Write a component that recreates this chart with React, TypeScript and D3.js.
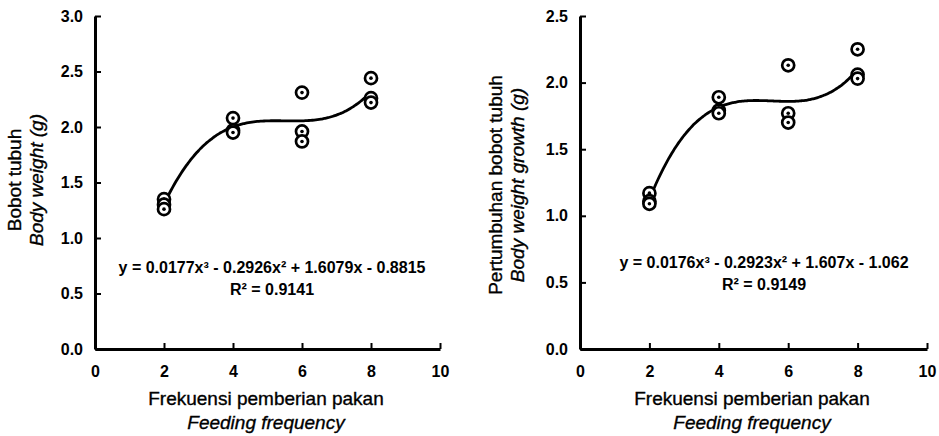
import React, { useEffect, useRef } from "react";
import * as d3 from "d3";

// feeding frequency categories on the x axis
const xTicks = [0, 2, 4, 6, 8, 10];
const feedX = [2, 2, 2, 4, 4, 4, 6, 6, 6, 8, 8, 8];

// left panel: body weight (g)
const bodyYTicks = [0, 0.5, 1, 1.5, 2, 2.5, 3];
const bodyWeight = [1.35, 1.3, 1.26, 2.08, 1.97, 1.95, 2.31, 1.96, 1.87, 2.44, 2.26, 2.22];
const bodyCoef = [0.0177, -0.2926, 1.6079, -0.8815];
const bodyEq = "y = 0.0177x³ - 0.2926x² + 1.6079x - 0.8815";
const bodyR2 = "R² = 0.9141";

// right panel: body weight growth (g)
const growthYTicks = [0, 0.5, 1, 1.5, 2, 2.5];
const growthWeight = [1.17, 1.11, 1.09, 1.89, 1.79, 1.77, 2.13, 1.77, 1.7, 2.25, 2.06, 2.03];
const growthCoef = [0.0176, -0.2923, 1.607, -1.062];
const growthEq = "y = 0.0176x³ - 0.2923x² + 1.607x - 1.062";
const growthR2 = "R² = 0.9149";

const FONT = "'Liberation Sans', Arial, Helvetica, sans-serif";

type PanelProps = {
  left: number;
  right: number;
  top: number;
  bottom: number;
  yMax: number;
  yTicks: number[];
  values: number[];
  coef: number[];
  eq: string;
  r2: string;
  eqX: number;
  eqY: number;
  titleX: number;
  yTitle1: string;
  yTitle2: string;
  yTitleX: number;
  yTitleY: number;
};

const Panel = (p: PanelProps) => {
  const ref = useRef<SVGGElement>(null);

  useEffect(() => {
    const g = d3.select(ref.current);
    g.selectAll("*").remove();

    const x = d3.scaleLinear().domain([0, 10]).range([p.left, p.right]);
    const y = d3.scaleLinear().domain([0, p.yMax]).range([p.bottom, p.top]);

    // axes with inward ticks
    const xa = g
      .append("g")
      .attr("transform", `translate(0,${p.bottom})`)
      .call(
        d3.axisBottom(x).tickValues(xTicks).tickFormat(d3.format("d")).tickSizeInner(-6).tickSizeOuter(0).tickPadding(17)
      );
    const ya = g
      .append("g")
      .attr("transform", `translate(${p.left},0)`)
      .call(
        d3.axisLeft(y).tickValues(p.yTicks).tickFormat(d3.format(".1f")).tickSizeInner(-6).tickSizeOuter(0).tickPadding(12)
      );
    [xa, ya].forEach((a) => {
      a.select(".domain").attr("stroke", "#000").attr("stroke-width", 3);
      a.selectAll(".tick line").attr("stroke", "#000").attr("stroke-width", 2);
      a.selectAll(".tick text")
        .attr("fill", "#000")
        .attr("font-family", FONT)
        .attr("font-size", 16)
        .attr("font-weight", "bold");
    });

    // cubic trend line from the fitted coefficients
    const poly = (v: number) =>
      p.coef[0] * v * v * v + p.coef[1] * v * v + p.coef[2] * v + p.coef[3];
    const line = d3
      .line<number>()
      .x((d) => x(d))
      .y((d) => y(poly(d)))
      .curve(d3.curveBasis);
    g.append("path")
      .datum(d3.range(2, 8.001, 0.05))
      .attr("d", line)
      .attr("fill", "none")
      .attr("stroke", "#000")
      .attr("stroke-width", 2.8);

    // observation markers
    const pts = g
      .selectAll("g.pt")
      .data(p.values)
      .enter()
      .append("g")
      .attr("transform", (d, i) => `translate(${x(feedX[i])},${y(d)})`);
    pts.append("circle").attr("r", 6).attr("fill", "#fff").attr("stroke", "#000").attr("stroke-width", 2.7);
    pts.append("circle").attr("r", 1.8).attr("fill", "#000");

    // equation
    const t = g
      .append("text")
      .attr("font-family", FONT)
      .attr("font-size", 16)
      .attr("font-weight", "bold")
      .attr("text-anchor", "middle")
      .attr("fill", "#000");
    t.append("tspan").attr("x", p.eqX).attr("y", p.eqY).text(p.eq);
    t.append("tspan").attr("x", p.eqX).attr("y", p.eqY + 22).text(p.r2);

    // x title
    const xt = g
      .append("text")
      .attr("font-family", FONT)
      .attr("font-size", 19)
      .attr("text-anchor", "middle")
      .attr("fill", "#000")
      .attr("stroke", "#000")
      .attr("stroke-width", 0.35);
    xt.append("tspan").attr("x", p.titleX).attr("y", 405).text("Frekuensi pemberian pakan");
    xt.append("tspan").attr("x", p.titleX).attr("y", 429).attr("font-style", "italic").text("Feeding frequency");

    // y title
    const yt = g
      .append("text")
      .attr("font-family", FONT)
      .attr("font-size", 19)
      .attr("text-anchor", "middle")
      .attr("fill", "#000")
      .attr("stroke", "#000")
      .attr("stroke-width", 0.35)
      .attr("transform", `translate(${p.yTitleX},${p.yTitleY}) rotate(-90)`);
    yt.append("tspan").attr("x", 0).attr("y", 0).text(p.yTitle1);
    yt.append("tspan").attr("x", 0).attr("y", 22).attr("font-style", "italic").text(p.yTitle2);

    return () => {
      g.selectAll("*").remove();
    };
  }, []);

  return <g ref={ref} />;
};

const App = () => {
  return (
    <svg
      width={939}
      height={436}
      viewBox="0 0 939 436"
      style={{ position: "absolute", left: 0, top: 0, background: "#fff", display: "block" }}
    >
      <rect width={939} height={436} fill="#fff" />
      <Panel
        left={95}
        right={440}
        top={16}
        bottom={349}
        yMax={3}
        yTicks={bodyYTicks}
        values={bodyWeight}
        coef={bodyCoef}
        eq={bodyEq}
        r2={bodyR2}
        eqX={272}
        eqY={273}
        titleX={266}
        yTitle1="Bobot tubuh"
        yTitle2="Body weight (g)"
        yTitleX={21}
        yTitleY={180}
      />
      <Panel
        left={580}
        right={927}
        top={16}
        bottom={349}
        yMax={2.5}
        yTicks={growthYTicks}
        values={growthWeight}
        coef={growthCoef}
        eq={growthEq}
        r2={growthR2}
        eqX={764}
        eqY={268}
        titleX={752}
        yTitle1="Pertumbuhan bobot tubuh"
        yTitle2="Body weight growth (g)"
        yTitleX={502}
        yTitleY={185}
      />
    </svg>
  );
};

export default App;
